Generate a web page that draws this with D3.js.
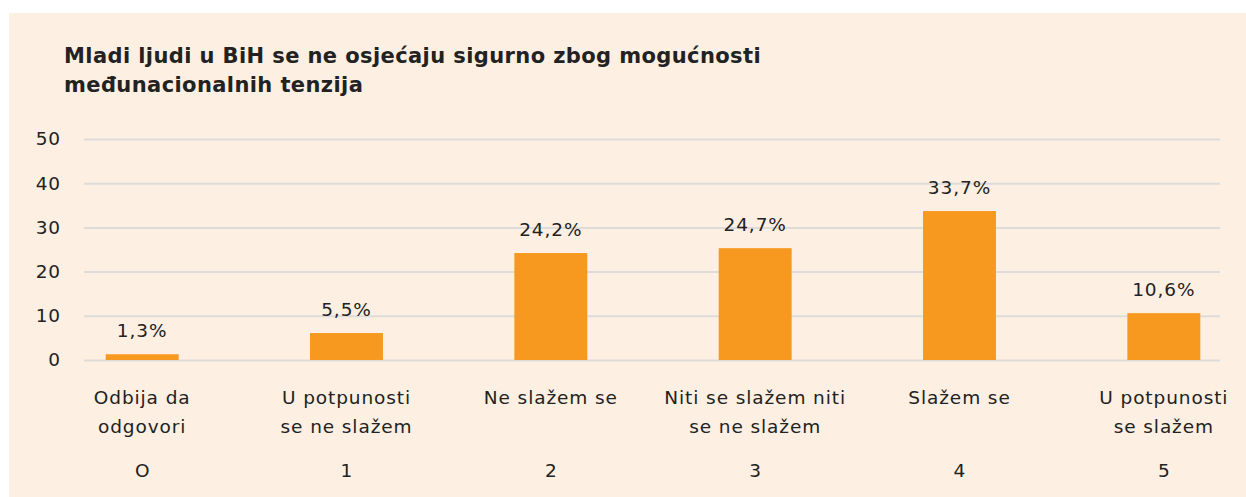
<!DOCTYPE html>
<html>
<head>
<meta charset="utf-8">
<script src="https://cdn.jsdelivr.net/npm/d3@7"></script>
<style>
  body { margin: 0; background: #fff; }
  text { font-family: "DejaVu Sans", sans-serif; fill: #222; }
</style>
</head>
<body>
<svg id="canvas"></svg>
<script>
const width = 1246
const height = 497

// data
const categories = [
  ["Odbija da", "odgovori"],
  ["U potpunosti", "se ne slažem"],
  ["Ne slažem se"],
  ["Niti se slažem niti", "se ne slažem"],
  ["Slažem se"],
  ["U potpunosti", "se slažem"]
]
const codes = ["O", "1", "2", "3", "4", "5"]
const values = [1.3, 6.1, 24.2, 25.3, 33.7, 10.6]
const valueLabels = ["1,3%", "5,5%", "24,2%", "24,7%", "33,7%", "10,6%"]
const yTicks = [0, 10, 20, 30, 40, 50]
const titleLines = [
  "Mladi ljudi u BiH se ne osjećaju sigurno zbog mogućnosti",
  "međunacionalnih tenzija"
]

const fontSize = 18.5
const spacing = 0.9

const canvas = d3.select("#canvas")
  .attr("width", width)
  .attr("height", height)

canvas.append("rect")
  .attr("x", 9)
  .attr("y", 13)
  .attr("width", width - 9)
  .attr("height", height - 13)
  .attr("fill", "#fdefe1")

const xScale = d3.scaleBand()
  .domain(d3.range(values.length))
  .range([40, 1266])
  .paddingInner(0.643)
  .paddingOuter(0.3215)

const yScale = d3.scaleLinear()
  .domain([0, 50])
  .range([360, 139])

// title
canvas.append("g")
  .selectAll("text")
  .data(titleLines)
  .enter()
  .append("text")
  .attr("x", 64)
  .attr("y", (d, i) => 63 + i * 29)
  .attr("font-size", 21)
  .attr("font-weight", 700)
  .attr("letter-spacing", 0.4)
  .text(d => d)

// grid + y labels
const yAxis = d3.axisLeft(yScale)
  .tickValues(yTicks)
  .tickSize(-(1220 - 84))
  .tickPadding(23)
  .tickFormat(d3.format("d"))

const yg = canvas.append("g")
  .attr("transform", "translate(84,0)")
  .call(yAxis)
yg.select(".domain").remove()
yg.selectAll(".tick line")
  .attr("stroke", "#dedcdb")
  .attr("stroke-width", 2)
yg.selectAll(".tick text")
  .attr("font-size", fontSize)
  .attr("font-family", "DejaVu Sans, sans-serif")
  .attr("letter-spacing", spacing)
  .attr("fill", "#222")

// bars
canvas.append("g")
  .selectAll("rect")
  .data(values)
  .enter()
  .append("rect")
  .attr("x", (d, i) => xScale(i))
  .attr("y", d => yScale(d))
  .attr("width", xScale.bandwidth())
  .attr("height", d => yScale(0) - yScale(d))
  .attr("fill", "#f8991f")

// value labels
canvas.append("g")
  .selectAll("text")
  .data(values)
  .enter()
  .append("text")
  .attr("x", (d, i) => xScale(i) + xScale.bandwidth() / 2)
  .attr("y", d => yScale(d) - 17)
  .attr("text-anchor", "middle")
  .attr("font-size", fontSize)
  .attr("letter-spacing", spacing)
  .text((d, i) => valueLabels[i])

// category labels
const cat = canvas.append("g")
  .selectAll("text")
  .data(categories)
  .enter()
  .append("text")
  .attr("text-anchor", "middle")
  .attr("font-size", fontSize)
  .attr("letter-spacing", spacing)

cat.selectAll("tspan")
  .data((d, i) => d.map(line => ({ line, i })))
  .enter()
  .append("tspan")
  .attr("x", d => xScale(d.i) + xScale.bandwidth() / 2)
  .attr("y", (d, j) => 404 + j * 29)
  .text(d => d.line)

canvas.append("g")
  .selectAll("text")
  .data(codes)
  .enter()
  .append("text")
  .attr("x", (d, i) => xScale(i) + xScale.bandwidth() / 2)
  .attr("y", 477)
  .attr("text-anchor", "middle")
  .attr("font-size", fontSize)
  .text(d => d)
</script>
</body>
</html>
